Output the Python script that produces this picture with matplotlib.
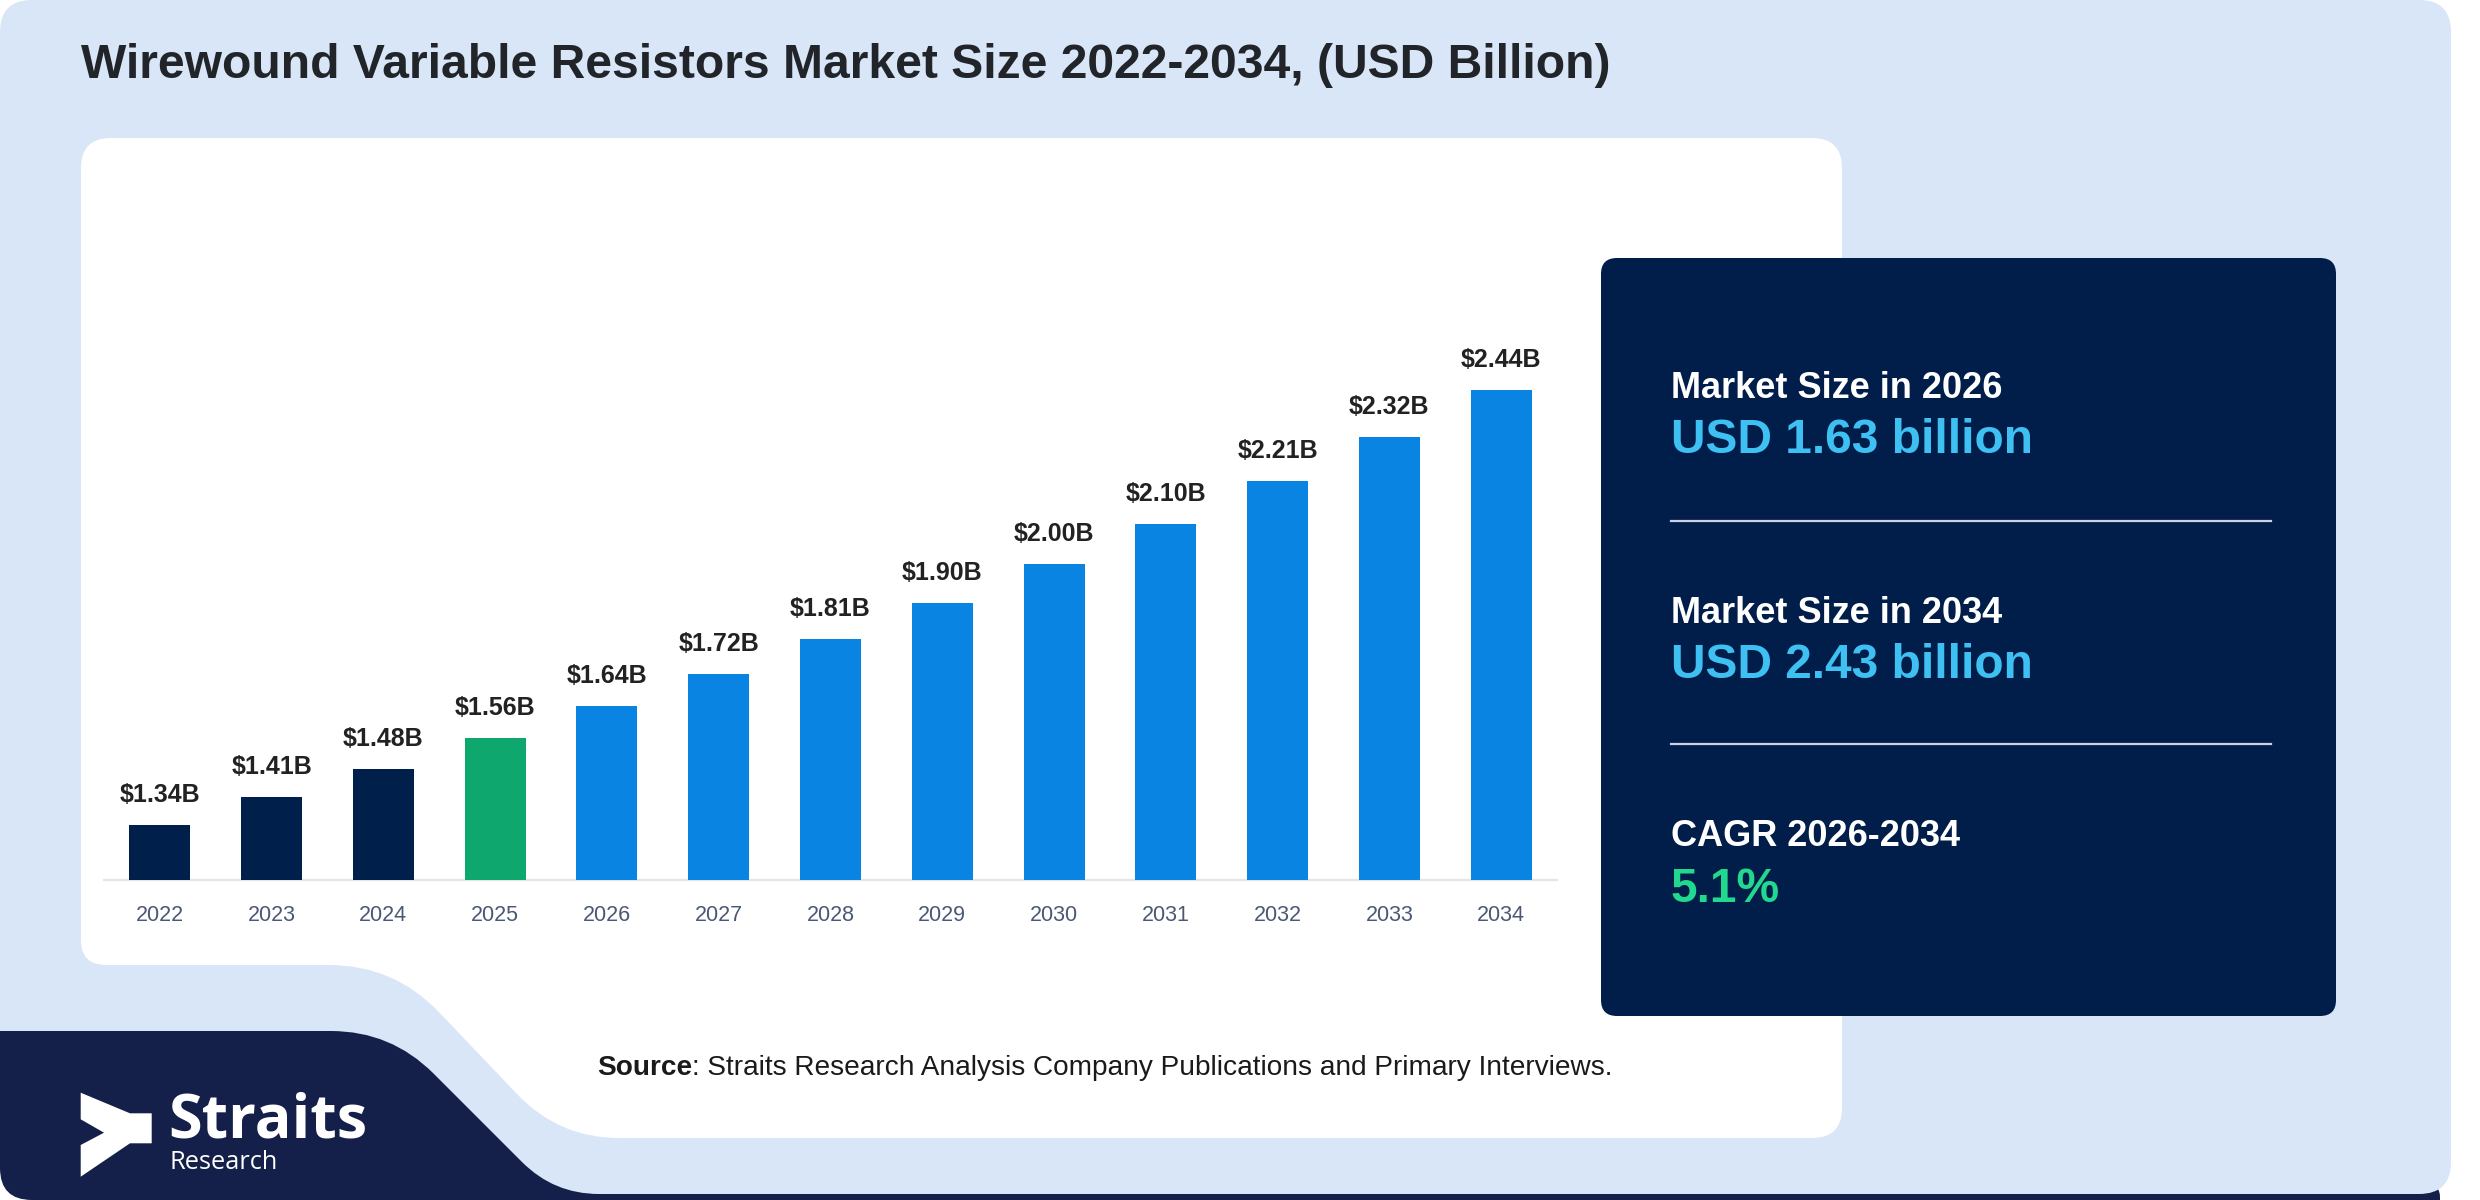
import matplotlib
matplotlib.use('Agg')
import matplotlib.pyplot as plt
import numpy as np
from matplotlib.patches import PathPatch, Polygon
from matplotlib.path import Path

# ---------------- data ----------------
years = ['2022', '2023', '2024', '2025', '2026', '2027', '2028',
         '2029', '2030', '2031', '2032', '2033', '2034']
values = [1.34, 1.41, 1.48, 1.56, 1.64, 1.72, 1.81, 1.90, 2.00, 2.10, 2.21, 2.32, 2.44]
bar_colors = ['#001f4b'] * 3 + ['#0ea86f'] + ['#0984e3'] * 9
bar_labels = [f'${v:.2f}B' for v in values]

title = 'Wirewound Variable Resistors Market Size 2022-2034, (USD Billion)'
panel_items = [
    ('Market Size in 2026', 'USD 1.63 billion', '#3ec0f2'),
    ('Market Size in 2034', 'USD 2.43 billion', '#3ec0f2'),
    ('CAGR 2026-2034', '5.1%', '#22d88f'),
]
source_bold = 'Source'
source_rest = ': Straits Research Analysis Company Publications and Primary Interviews.'

plt.rcParams['font.family'] = ['Liberation Sans', 'DejaVu Sans']

W, H = 2480, 1200
fig = plt.figure(figsize=(24.8, 12), dpi=100)
fig.patch.set_facecolor('white')
bg = fig.add_axes([0, 0, 1, 1])
bg.set_xlim(0, W)
bg.set_ylim(H, 0)
bg.axis('off')


def rounded_path(verts, radii):
    n = len(verts)
    pts, codes = [], []
    for i in range(n):
        p = np.array(verts[i], float)
        prv = np.array(verts[i - 1], float)
        nxt = np.array(verts[(i + 1) % n], float)
        r = radii[i]
        d1 = prv - p
        d1 /= np.linalg.norm(d1)
        d2 = nxt - p
        d2 /= np.linalg.norm(d2)
        a = p + d1 * r
        b = p + d2 * r
        pts.append(a)
        codes.append(Path.MOVETO if i == 0 else Path.LINETO)
        pts += [p, b]
        codes += [Path.CURVE3, Path.CURVE3]
    pts.append(pts[0])
    codes.append(Path.CLOSEPOLY)
    return Path(pts, codes)


navy_logo = '#14204a'
# bottom navy strip (behind the card)
bg.add_patch(PathPatch(rounded_path([(300, 1185), (2440, 1185), (2440, 1200), (300, 1200)],
                                    [0, 12, 0, 0]), fc=navy_logo, ec='none', zorder=0))
# light-blue card
bg.add_patch(PathPatch(rounded_path([(0, 0), (2451, 0), (2451, 1194), (0, 1194)],
                                    [32, 32, 32, 32]), fc='#d9e6f8', ec='none', zorder=1))
# white chart panel with notch at bottom-left
bg.add_patch(PathPatch(rounded_path([(81, 138), (1842, 138), (1842, 1138), (559, 1138),
                                     (394, 965), (81, 965)],
                                    [30, 30, 30, 60, 65, 25]), fc='white', ec='none', zorder=2))
# navy logo shape at bottom-left
bg.add_patch(PathPatch(rounded_path([(0, 1031), (391, 1031), (554, 1194), (700, 1194),
                                     (700, 1200), (0, 1200)],
                                    [0, 60, 45, 0, 0, 32]), fc=navy_logo, ec='none', zorder=3))
# logo mark
logo_pts = [(80.7, 1092.7), (130, 1113.3), (151.7, 1113.3), (151.7, 1143.3), (130, 1143.3),
            (80.7, 1176.7), (80.7, 1145), (104, 1132.7), (80.7, 1119.3)]
bg.add_patch(Polygon(logo_pts, closed=True, fc='white', ec='none', zorder=4))
bg.text(168, 1137, 'Straits', fontsize=44, fontweight='bold', color='white',
        family=['Open Sans', 'DejaVu Sans'], va='baseline', ha='left', zorder=5)
bg.text(170, 1169, 'Research', fontsize=18.3, color='white',
        family=['Open Sans', 'DejaVu Sans'], va='baseline', ha='left', zorder=5)

# right dark panel
bg.add_patch(PathPatch(rounded_path([(1601, 258), (2336, 258), (2336, 1016), (1601, 1016)],
                                    [16, 16, 16, 16]), fc='#011e4a', ec='none', zorder=2))
head_y = [398, 623, 846]
val_y = [453, 678, 902]
for (head, val, col), hy, vy in zip(panel_items, head_y, val_y):
    bg.text(1671, hy, head, fontsize=26, fontweight='bold', color='white',
            va='baseline', ha='left', zorder=5)
    bg.text(1671, vy, val, fontsize=34.5, fontweight='bold', color=col,
            va='baseline', ha='left', zorder=5)
for ly in [521, 744]:
    bg.plot([1671, 2271], [ly, ly], color='#c9d2e3', lw=1.6, zorder=5)

# title
bg.text(81, 78, title, fontsize=34.6, fontweight='bold', color='#212529',
        va='baseline', ha='left', zorder=5)

# source
t1 = bg.text(597, 1075, source_bold, fontsize=20.2, fontweight='bold', color='#1a1a1a',
             va='baseline', ha='left', zorder=5)
fig.canvas.draw()
ext = t1.get_window_extent()
bg.text(597 + ext.width, 1075, source_rest, fontsize=20.2, color='#1a1a1a',
        va='baseline', ha='left', zorder=5)

# ---------------- bar chart ----------------
px_left, px_right, px_bottom, px_top = 104, 1557, 880, 300
ymin = 1.2
px_per_unit = 395.5
ax = fig.add_axes([px_left / W, (H - px_bottom) / H, (px_right - px_left) / W,
                   (px_bottom - px_top) / H])
ax.set_facecolor('none')
ax.set_zorder(10)
x = np.arange(len(years))
ax.bar(x, values, width=0.546, color=bar_colors, zorder=3)
ax.set_xlim(-0.5, len(years) - 0.5)
ax.set_ylim(ymin, ymin + (px_bottom - px_top) / px_per_unit)
for xi, v, lab in zip(x, values, bar_labels):
    ax.annotate(lab, (xi, v), xytext=(0, 16.5), textcoords='offset points',
                ha='center', va='baseline', fontsize=18, fontweight='bold', color='#222222')
ax.set_xticks(x)
ax.set_xticklabels(years)
ax.set_yticks([])
for s in ['top', 'left', 'right']:
    ax.spines[s].set_visible(False)
ax.spines['bottom'].set_color('#e3e5ea')
ax.spines['bottom'].set_linewidth(1.6)
ax.tick_params(axis='x', length=0, pad=18, labelsize=15.5, labelcolor='#4b5875')

fig.savefig('out.png', dpi=100)
